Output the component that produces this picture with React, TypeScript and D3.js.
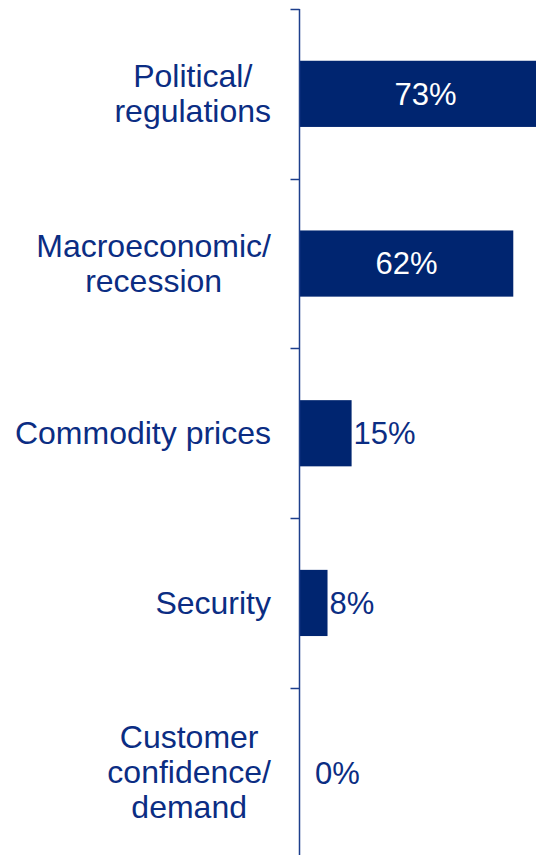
import React from "react";
import * as d3 from "d3";

const categories = [
  "Political/\nregulations",
  "Macroeconomic/\nrecession",
  "Commodity prices",
  "Security",
  "Customer\nconfidence/\ndemand",
];
const values = [73, 62, 15, 8, 0];

const W = 536;
const H = 855;
const BAR = "#002570";
const TEXT = "#0b2d83";
const AXIS = "#1d3f8c";
const FONT = "'Liberation Sans', Arial, sans-serif";
const FS = 32;
const VFS = 31;
const LINE = 35;

function measure(s: string): number {
  const c = document.createElement("canvas").getContext("2d");
  if (!c) return s.length * FS * 0.55;
  c.font = `${FS}px ${FONT}`;
  return c.measureText(s).width;
}

export default function App() {
  const x = d3.scaleLinear().domain([0, 100]).range([300, 644]);
  const y = d3
    .scaleBand<string>()
    .domain(categories)
    .range([9, 857.5])
    .paddingInner(0.61)
    .paddingOuter(0.305);
  const step = y.step();
  const axisX = 299.5;
  const labelRight = 271;

  return (
    <svg
      width={W}
      height={H}
      style={{ position: "absolute", left: 0, top: 0, background: "#fff" }}
      fontFamily={FONT}
    >
      {categories.map((c, i) => {
        const y0 = y(c)!;
        const bw = y.bandwidth();
        const v = values[i];
        const xe = x(v);
        const cy = y0 + bw / 2;
        const lines = c.split("\n");
        const maxW = Math.max(...lines.map(measure));
        const cx = labelRight - maxW / 2;
        const inside = xe - x(0) > 120;
        return (
          <g key={c}>
            {v > 0 && (
              <rect x={x(0)} y={y0} width={xe - x(0)} height={bw} fill={BAR} />
            )}
            <text
              x={inside ? (x(0) + xe) / 2 : Math.max(xe + 2, x(0) + 15)}
              y={cy}
              dy="0.35em"
              fontSize={VFS}
              fill={inside ? "#fff" : TEXT}
              textAnchor={inside ? "middle" : "start"}
            >
              {`${v}%`}
            </text>
            {lines.map((ln, j) => (
              <text
                key={j}
                x={cx}
                y={cy + (j - (lines.length - 1) / 2) * LINE}
                dy="0.33em"
                fontSize={FS}
                fill={TEXT}
                textAnchor="middle"
              >
                {ln}
              </text>
            ))}
          </g>
        );
      })}
      <line x1={axisX} x2={axisX} y1={9} y2={H} stroke={AXIS} strokeWidth={1.5} />
      {d3.range(categories.length + 1).map((i) => {
        const ty = Math.round(9 + i * step) + 0.5;
        return (
          <line key={i} x1={axisX - 9} x2={axisX} y1={ty} y2={ty} stroke={AXIS} strokeWidth={1.5} />
        );
      })}
    </svg>
  );
}
